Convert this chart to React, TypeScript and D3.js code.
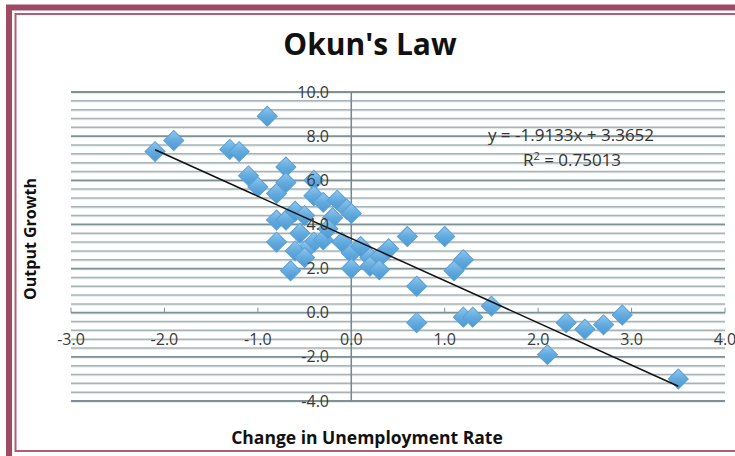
import React from 'react';
import * as d3 from 'd3';

// change in unemployment rate (x) vs output growth (y)
const unempChange = [
  -2.1, -1.9, -1.3, -1.2, -0.9, -1.1, -1.0, -0.7, -0.7, -0.8,
  -0.4, -0.4, -0.3, -0.15, -0.05, 0.0, -0.8, -0.7, -0.6, -0.5,
  -0.2, -0.8, -0.55, -0.4, -0.3, -0.1, -0.5, -0.6, -0.5, -0.65,
  0.0, 0.0, 0.2, 0.3, 0.4, 0.2, 0.3, -0.25, 0.1, 0.6,
  1.0, 1.2, 1.1, 0.7, 0.7, 1.2, 1.3, 1.5, 2.1, 2.3,
  2.5, 2.7, 2.9, 3.5,
];
const outputGrowth = [
  7.3, 7.8, 7.4, 7.3, 8.9, 6.2, 5.7, 6.6, 5.9, 5.4,
  6.0, 5.3, 5.0, 5.1, 4.7, 4.5, 4.2, 4.2, 4.6, 4.4,
  4.3, 3.2, 3.6, 3.2, 3.3, 3.2, 2.8, 2.8, 2.5, 1.9,
  2.7, 2.0, 2.5, 2.5, 2.9, 2.1, 1.95, 3.8, 3.0, 3.45,
  3.45, 2.4, 1.9, 1.2, -0.45, -0.2, -0.2, 0.3, -1.9, -0.45,
  -0.75, -0.55, -0.1, -3.0,
];

const xTicks = [-3, -2, -1, 0, 1, 2, 3, 4];
const yTicks = [-4, -2, 0, 2, 4, 6, 8, 10];

const slope = -1.9133;
const intercept = 3.3652;
const trendRange = [-2.1, 3.5];
const eqLabel = 'y = -1.9133x + 3.3652';
const r2Label = '0.75013';

const width = 735;
const height = 456;

export default function App() {
  const x = d3.scaleLinear().domain([-3, 4]).range([71, 725]);
  const y = d3.scaleLinear().domain([-4, 10]).range([401, 92]);

  // minor grid every 0.4, majors on the labelled ticks
  const gridVals = d3.range(0, 36).map(i => 10 - i * 0.4);

  const points = unempChange.map((u, i) => ({ u, g: outputGrowth[i] }));

  const diamond = d3.symbol(d3.symbolSquare, 200)();

  const trend = d3.line<number>()
    .x(d => x(d))
    .y(d => y(slope * d + intercept));

  const font = '"Open Sans", "Liberation Sans", sans-serif';

  return (
    <svg
      width={width}
      height={height}
      style={{ position: 'absolute', left: 0, top: 0, display: 'block', background: '#fff' }}
    >
      <defs>
        <linearGradient id="dia" x1="0" y1="0" x2="1" y2="1">
          <stop offset="0%" stopColor="#92c8ed" />
          <stop offset="50%" stopColor="#63abdf" />
          <stop offset="100%" stopColor="#4c98d3" />
        </linearGradient>
      </defs>

      {/* frame */}
      <rect x={9} y={7.5} width={800} height={520} fill="none" stroke="#9e4a64" strokeWidth={6} />
      <rect x={15.5} y={14} width={790} height={437} fill="none" stroke="#b35c78" strokeWidth={2} />

      <text
        x={370}
        y={55}
        textAnchor="middle"
        fontFamily={font}
        fontWeight="bold"
        fontSize={30}
        fill="#111"
      >
        Okun's Law
      </text>

      {/* grid */}
      <g>
        {gridVals.map((v, i) => {
          const major = Math.abs(v - Math.round(v)) < 1e-6 && Math.round(v) % 2 === 0;
          return (
            <g key={i}>
              <line
                x1={x(-3)} x2={x(4)} y1={y(v) + 1} y2={y(v) + 1}
                stroke="#e2e8e8" strokeWidth={1.5}
              />
              <line
                x1={x(-3)} x2={x(4)} y1={y(v)} y2={y(v)}
                stroke={major ? '#7e9295' : '#a7b4b6'} strokeWidth={major ? 1.8 : 1.5}
              />
            </g>
          );
        })}
      </g>

      {/* y axis at x = 0 */}
      <line x1={x(0)} x2={x(0)} y1={y(10)} y2={y(-4)} stroke="#6f8a8f" strokeWidth={1.5} />
      {/* x axis ticks */}
      {xTicks.map(t => (
        <line key={t} x1={x(t)} x2={x(t)} y1={y(0)} y2={y(0) - 5} stroke="#7e9295" strokeWidth={1} />
      ))}

      {/* points */}
      {points.map((p, i) => (
        <path
          key={i}
          d={diamond}
          transform={`translate(${x(p.u)},${y(p.g)}) rotate(45)`}
          fill="url(#dia)"
          stroke="#5aa0d6"
          strokeWidth={1}
        />
      ))}

      <path d={trend(trendRange)} fill="none" stroke="#111" strokeWidth={1.5} />

      {yTicks.map(t => (
        <text
          key={t}
          x={329}
          y={y(t)}
          dy="0.35em"
          textAnchor="end"
          fontFamily={font}
          fontSize={16}
          fill="#3a3a3a"
        >
          {t.toFixed(1)}
        </text>
      ))}
      {xTicks.map(t => (
        <text
          key={t}
          x={x(t)}
          y={y(0) + 27}
          dy="0.35em"
          textAnchor="middle"
          fontFamily={font}
          fontSize={16}
          fill="#3a3a3a"
        >
          {t.toFixed(1)}
        </text>
      ))}

      <text x={571} y={135} dy="0.35em" textAnchor="middle" fontFamily={font} fontSize={17} fill="#333">
        {eqLabel}
      </text>
      <text x={572} y={160} dy="0.35em" textAnchor="middle" fontFamily={font} fontSize={17} fill="#333">
        R<tspan dy="-6" fontSize={11}>2</tspan><tspan dy="6"> = {r2Label}</tspan>
      </text>

      <text
        transform="translate(36,239) rotate(-90)"
        textAnchor="middle"
        fontFamily={font}
        fontWeight="bold"
        fontSize={16}
        fill="#111"
      >
        Output Growth
      </text>
      <text
        x={367}
        y={444}
        textAnchor="middle"
        fontFamily={font}
        fontWeight="bold"
        fontSize={17.5}
        fill="#111"
      >
        Change in Unemployment Rate
      </text>
    </svg>
  );
}
